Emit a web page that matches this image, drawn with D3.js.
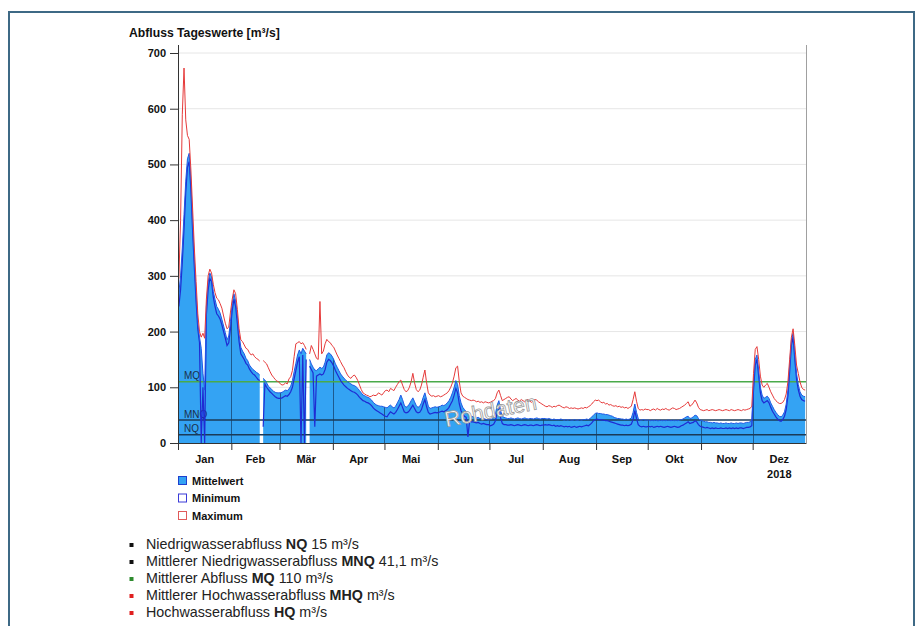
<!DOCTYPE html>
<html><head><meta charset="utf-8">
<script src="https://cdn.jsdelivr.net/npm/d3@7"></script>
<style>
body{margin:0;background:#fff;}
svg{display:block;font-family:"Liberation Sans",Arial,sans-serif;}
</style>
</head><body>
<svg id="c" width="923" height="626"></svg>
<script>
// ---------- data ----------
const titleText = "Abfluss Tageswerte [m³/s]";
const monthLabels = ["Jan","Feb","Mär","Apr","Mai","Jun","Jul","Aug","Sep","Okt","Nov","Dez"];
const yearLabel = "2018";
const yTicks = [0,100,200,300,400,500,600,700];
const refNames = ["MQ","MNQ","NQ"];
const refValues = [110, 41.1, 15];

// daily values 2018 (index 0 = 1 Jan), null = missing
const meanValues = [
 270,300,350,410,470,510,520,470,395,330,270,215,190,170,125,95,245,288,305,298,272,258,245,240,233,222,210,198,185,192,218,
 250,268,255,228,195,172,165,160,152,148,140,136,132,130,127,125,122,null,116,113,108,102,99,96,93,91,90,90,
 90,91,93,95,94,97,102,112,128,143,158,167,160,170,165,160,null,150,142,136,131,130,133,136,134,136,145,158,162,160,156,
 150,142,136,130,124,120,116,113,110,108,106,104,103,101,98,94,90,86,85,83,82,80,77,73,70,68,67,66,66,65,
 64,63,66,68,65,63,66,72,78,86,78,68,64,66,70,76,81,74,67,64,66,72,82,90,78,66,62,63,64,65,64,
 65,66,68,67,69,72,76,82,90,100,112,105,85,72,64,60,56,52,50,48,47,46,45,46,44,43,44,43,42,41,
 42,43,45,52,68,76,58,48,46,45,44,44,45,44,43,44,45,44,43,44,45,44,43,44,44,43,44,45,44,43,44,
 44,44,43,44,43,42,43,42,42,42,43,42,41,42,41,42,41,41,42,41,41,42,41,42,42,43,42,44,47,50,53,
 54,53,53,52,52,51,51,50,49,48,46,45,44,44,43,43,42,43,42,43,45,55,70,55,44,41,41,42,41,41,
 41,40,41,40,41,40,40,41,40,41,40,41,41,40,41,40,41,40,41,42,43,45,47,48,44,45,47,50,49,44,41,
 40,39,38,38,37,37,36,37,36,36,35,36,35,35,36,35,35,36,35,35,36,35,36,36,35,36,37,37,38,40,
 110,150,158,130,100,86,80,82,84,80,72,66,60,55,51,48,47,50,56,70,95,140,185,197,160,125,105,92,86,84,83
];
const minValues = [
 245,275,325,385,450,495,505,455,380,315,255,205,180,0,100,0,230,275,295,290,262,245,232,228,222,212,200,188,175,180,205,
 238,258,245,215,182,160,155,150,143,140,133,128,124,122,118,114,112,null,29,106,100,96,92,89,86,83,81,80,
 80,81,83,85,84,87,92,100,115,130,145,155,0,158,0,150,null,138,132,126,29,120,122,124,122,124,132,145,150,148,144,
 138,130,124,118,112,108,104,101,98,96,94,92,91,89,86,82,79,76,75,73,72,70,67,63,60,58,56,54,52,50,
 48,47,52,56,54,52,55,60,66,72,64,56,54,55,58,63,68,62,56,54,55,60,70,78,65,55,52,53,54,55,54,
 55,56,57,56,58,60,64,70,76,86,98,90,70,58,52,48,46,11,40,38,38,37,36,37,35,34,35,34,33,33,
 31,32,34,40,54,62,45,35,33,33,32,32,33,32,31,32,33,32,31,32,33,32,31,32,32,31,32,33,32,31,32,
 32,33,32,33,32,31,32,30,31,30,31,30,29,30,29,30,28,29,30,28,29,30,29,30,31,32,31,33,36,40,42,
 43,42,42,41,41,40,40,39,38,37,36,35,34,33,32,32,31,32,31,32,34,42,58,44,33,30,29,30,29,29,
 30,29,30,28,29,30,29,30,29,28,29,30,29,28,29,30,29,28,29,31,32,34,36,38,35,36,37,40,38,33,30,
 29,28,27,28,27,26,27,26,27,26,26,27,26,26,27,26,27,26,27,26,27,26,27,27,26,27,28,28,29,31,
 95,140,150,120,90,76,72,74,76,72,64,57,52,47,43,40,39,42,48,60,85,128,175,190,150,115,96,84,78,76,75
];
const maxValues = [
 295,400,590,673,580,552,545,490,420,350,290,232,200,190,197,188,258,300,312,305,285,270,260,257,250,242,228,215,205,208,235,
 258,275,268,240,205,185,182,176,170,168,162,158,160,155,152,150,147,null,148,145,142,135,128,122,118,114,111,110,
 106,104,105,108,106,115,119,130,155,178,180,182,178,180,175,168,null,160,175,168,160,152,150,254,160,165,178,186,182,180,175,
 172,165,158,152,146,140,135,128,122,118,116,120,122,118,112,104,96,90,88,86,85,83,84,86,85,86,90,88,86,90,
 94,95,92,98,96,94,100,105,110,113,104,96,92,94,100,110,125,108,96,92,95,104,118,131,108,90,86,84,85,83,84,
 85,83,84,86,88,90,94,100,108,120,135,138,110,90,84,82,80,78,77,76,77,76,74,75,73,74,72,74,73,72,
 73,75,76,80,90,95,85,76,78,80,82,83,79,76,78,80,77,75,78,76,74,77,78,75,73,76,78,77,74,72,70,
 68,66,65,67,66,64,66,65,67,68,66,64,63,65,64,62,63,62,63,62,61,62,63,62,64,63,65,67,70,74,77,
 76,77,74,72,73,70,71,68,69,67,66,67,65,66,64,65,63,64,62,64,66,78,92,75,62,59,60,59,61,60,
 60,58,60,61,59,62,60,59,61,60,62,60,59,61,63,62,60,61,62,64,66,68,71,74,66,68,72,77,72,64,60,
 59,58,59,60,58,59,60,59,58,59,60,59,58,59,60,59,58,60,59,58,59,60,59,58,60,59,60,61,62,66,
 125,168,173,150,120,104,100,104,107,100,92,86,80,76,73,71,71,73,78,88,110,150,190,205,175,140,125,110,100,96,95
];

const legendNames = ["Mittelwert","Minimum","Maximum"];
const infoPre  = ["Niedrigwasserabfluss ","Mittlerer Niedrigwasserabfluss ","Mittlerer Abfluss ","Mittlerer Hochwasserabfluss ","Hochwasserabfluss "];
const infoBold = ["NQ","MNQ","MQ","MHQ","HQ"];
const infoPost = [" 15 m³/s"," 41,1 m³/s"," 110 m³/s"," m³/s"," m³/s"];
const watermark = "Rohdaten";

// ---------- styles ----------
const C = {
  fill:"#34a3f3", meanLine:"#2158e6", minLine:"#1f2bd3", maxLine:"#e63a3a",
  mq:"#4aaa4a", low:"#1b3b58", grid:"#e6e6e6", frame:"#3e6985"
};

const svg = d3.select("#c");
const L = 178, R = 806, T = 45, B = 443;
const x = d3.scaleTime().domain([new Date(2018,0,1), new Date(2019,0,1)]).range([L, R]);
const y = d3.scaleLinear().domain([0,700]).range([B, 53]);
const dayDate = i => new Date(2018, 0, 1 + i, 12);

const mk = arr => arr.map((v,i)=>({d:dayDate(i), v}));
const meanData = mk(meanValues), minData = mk(minValues), maxData = mk(maxValues);

// outer frame
svg.append("rect").attr("x",9).attr("y",12).attr("width",905).attr("height",640)
  .attr("fill","none").attr("stroke",C.frame).attr("stroke-width",2);

// title
svg.append("text").attr("x",129).attr("y",37).attr("font-size",12.2).attr("font-weight","bold")
  .attr("fill","#111").text(titleText);

// grid
svg.append("g").selectAll("line").data(yTicks.filter(t=>t>0)).join("line")
  .attr("x1",L).attr("x2",R).attr("y1",d=>y(d)).attr("y2",d=>y(d))
  .attr("stroke",C.grid).attr("stroke-width",1);

// area (mean)
const area = d3.area().defined(d=>d.v!==null).x(d=>x(d.d)).y0(B).y1(d=>y(d.v)).curve(d3.curveLinear);
const areaPath = area(meanData);
svg.append("path").attr("d",areaPath).attr("fill",C.fill);

svg.append("clipPath").attr("id","ac").append("path").attr("d",areaPath);
// month lines inside fill
svg.append("g").attr("clip-path","url(#ac)").selectAll("line")
  .data(d3.timeMonth.range(new Date(2018,1,1), new Date(2019,0,1))).join("line")
  .attr("x1",d=>Math.round(x(d))+0.5).attr("x2",d=>Math.round(x(d))+0.5).attr("y1",T).attr("y2",B)
  .attr("stroke","#1d5a8e").attr("stroke-width",1);

// reference lines
refNames.forEach((n,i)=>{
  const yy = y(refValues[i]);
  svg.append("line").attr("x1",L).attr("x2",R).attr("y1",yy).attr("y2",yy)
    .attr("stroke", n==="MQ"?C.mq:C.low).attr("stroke-width",1.5);
  svg.append("text").attr("x",184).attr("y",yy-2.5).attr("font-size",10)
    .attr("fill","#1b2f4a").text(n);
});

// lines
const line = d3.line().defined(d=>d.v!==null).x(d=>x(d.d)).y(d=>y(d.v));
svg.append("path").attr("d",line(minData)).attr("fill","none").attr("stroke",C.minLine).attr("stroke-width",1.2);
svg.append("path").attr("d",line(meanData)).attr("fill","none").attr("stroke",C.meanLine).attr("stroke-width",1);
svg.append("path").attr("d",line(maxData)).attr("fill","none").attr("stroke",C.maxLine).attr("stroke-width",1);

// watermark
svg.append("text").attr("transform","translate(492,418) rotate(-11)")
  .attr("text-anchor","middle").attr("font-size",21.5)
  .attr("fill","#fff").attr("stroke","#9a9a9a").attr("stroke-width",0.8).text(watermark);

// right border of plot
svg.append("line").attr("x1",R+0.5).attr("x2",R+0.5).attr("y1",T).attr("y2",B).attr("stroke","#a0a0a0");

// y axis
const yAxis = svg.append("g").attr("transform",`translate(${L},0)`)
  .call(d3.axisLeft(y).tickValues(yTicks).tickSize(8).tickSizeOuter(0).tickPadding(4));
yAxis.select(".domain").attr("d",`M0.5,${T}V${B}`).attr("stroke","#333");
yAxis.selectAll(".tick line").attr("stroke","#333");
yAxis.selectAll(".tick text").attr("font-size",11).attr("font-weight","bold").attr("fill","#111")
  .attr("font-family","Liberation Sans, Arial, sans-serif");

// x axis
const xAxis = svg.append("g").attr("transform",`translate(0,${B})`)
  .call(d3.axisBottom(x).tickValues(d3.timeMonth.range(new Date(2018,0,1), new Date(2019,0,1)))
    .tickSize(7).tickSizeOuter(0).tickFormat(""));
xAxis.select(".domain").attr("stroke","#333");
xAxis.selectAll(".tick line").attr("stroke","#333");

const monthStarts = d3.timeMonth.range(new Date(2018,0,1), new Date(2019,1,1));
svg.append("g").selectAll("text").data(monthLabels).join("text")
  .attr("x",(d,i)=>(x(monthStarts[i])+x(monthStarts[i+1]))/2).attr("y",463)
  .attr("text-anchor","middle").attr("font-size",11).attr("font-weight","bold").attr("fill","#111").text(d=>d);
svg.append("text").attr("x",(x(monthStarts[11])+x(monthStarts[12]))/2).attr("y",478)
  .attr("text-anchor","middle").attr("font-size",11).attr("font-weight","bold").attr("fill","#111").text(yearLabel);

// legend
const legFill = [C.fill,"#fff","#fff"], legStroke = ["#1e3fcf","#3a3ad8","#e05a5a"];
legendNames.forEach((n,i)=>{
  const yy = 476 + i*17.5;
  svg.append("rect").attr("x",178.5).attr("y",yy+0.5).attr("width",8).attr("height",8)
    .attr("fill",legFill[i]).attr("stroke",legStroke[i]).attr("stroke-width",1);
  svg.append("text").attr("x",192).attr("y",yy+8.5).attr("font-size",11).attr("font-weight","bold")
    .attr("fill","#111").text(n);
});

// info list
const bulletColors = ["#111","#111","#2e8b2e","#e02020","#e02020"];
infoPre.forEach((p,i)=>{
  const yy = 549 + i*17;
  svg.append("rect").attr("x",129.5).attr("y",yy-6).attr("width",4).attr("height",4).attr("fill",bulletColors[i]);
  const t = svg.append("text").attr("x",146).attr("y",yy).attr("font-size",14.3).attr("fill","#222");
  t.append("tspan").text(p);
  t.append("tspan").attr("font-weight","bold").text(infoBold[i]);
  t.append("tspan").text(infoPost[i]);
});
</script>
</body></html>
